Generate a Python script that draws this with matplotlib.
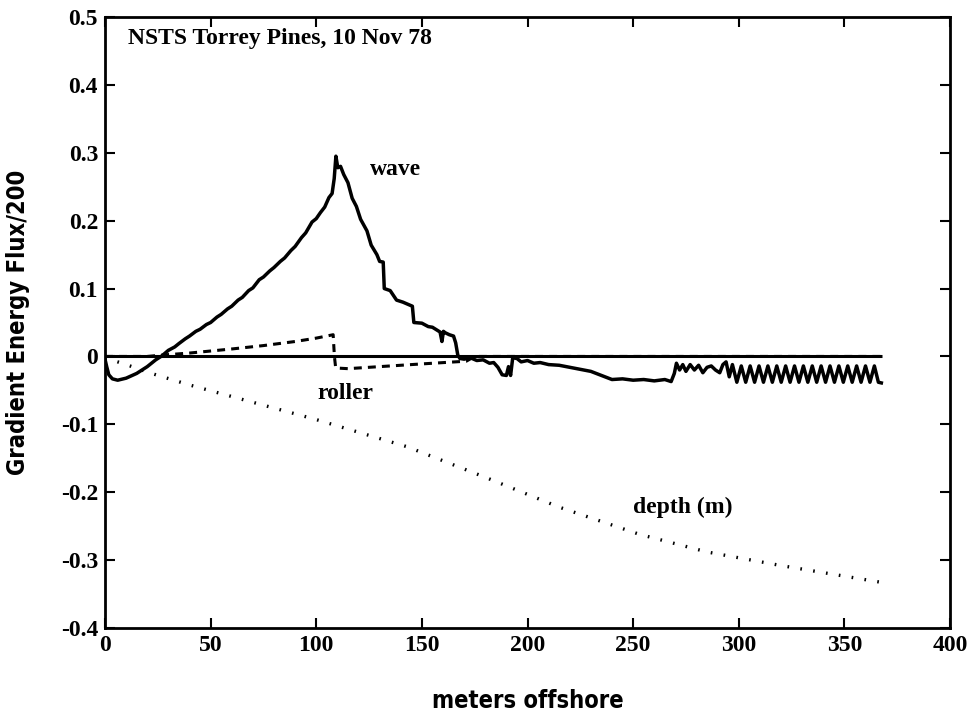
import matplotlib
matplotlib.use("Agg")
import matplotlib.pyplot as plt

# Cross-shore profile, NSTS Torrey Pines, 10 Nov 78
wave_x = [0, 0.8, 1.8, 3.5, 6, 10, 15, 20, 24, 27, 30, 33, 35, 38, 40, 43, 45, 48, 50,
          53, 55, 58, 60, 63, 65, 68, 70, 73, 75, 78, 80, 83, 85, 88, 90, 93, 95, 98, 100,
          102, 104, 106, 107.5, 108.5, 109.3, 110.2, 111.5, 113, 115, 117, 119, 121, 124,
          126, 128.7, 130, 131.7, 132.2, 135, 138, 141, 144, 145.5, 146.2, 150, 153, 155,
          158.6, 159.5, 160.2, 161, 163, 165, 166, 167, 168,
          170, 173, 176, 179, 182, 184, 186, 188, 190, 191, 192, 193, 195, 197, 200, 203,
          206, 210, 215, 220, 225, 230, 235, 240, 245, 250, 255, 260, 265, 268, 269.5,
          270.5, 272, 273.5, 275, 277, 279, 281, 283, 285, 287, 289, 291, 292.5, 294,
          295.5, 297.0, 299.1, 301.2, 303.3, 305.4, 307.5, 309.6, 311.7, 313.8, 315.9,
          318.0, 320.1, 322.2, 324.3, 326.4, 328.5, 330.6, 332.7, 334.8, 336.9, 339.0,
          341.1, 343.2, 345.3, 347.4, 349.5, 351.6, 353.7, 355.8, 357.9, 360.0, 362.1,
          364.2, 366.1, 367.5]
wave_y = [-0.004, -0.015, -0.027, -0.033, -0.035, -0.032, -0.025, -0.015, -0.005, 0.001,
          0.009, 0.014, 0.019, 0.026, 0.030, 0.037, 0.040, 0.047, 0.050,
          0.058, 0.062, 0.070, 0.074, 0.083, 0.087, 0.097, 0.101, 0.113, 0.117, 0.126,
          0.131, 0.140, 0.145, 0.156, 0.162, 0.175, 0.182, 0.198, 0.203,
          0.212, 0.220, 0.234, 0.240, 0.262, 0.295, 0.278, 0.280, 0.268, 0.256, 0.233,
          0.221, 0.202, 0.185, 0.164, 0.150, 0.140, 0.139, 0.100, 0.097, 0.083, 0.080,
          0.076, 0.074, 0.050, 0.049, 0.044, 0.043, 0.036, 0.022, 0.037, 0.035, 0.032,
          0.030, 0.020, 0.002, -0.003,
          -0.004, -0.002, -0.006, -0.005, -0.010, -0.009, -0.016, -0.027, -0.028, -0.015,
          -0.028, -0.002, -0.003, -0.008, -0.006, -0.010, -0.009, -0.012, -0.013, -0.016,
          -0.019, -0.022, -0.028, -0.034, -0.033, -0.035, -0.034, -0.036, -0.034, -0.037,
          -0.025, -0.010, -0.020, -0.012, -0.022, -0.012, -0.020, -0.013, -0.024, -0.016,
          -0.014, -0.020, -0.024, -0.012, -0.008, -0.030, -0.012, -0.038, -0.014, -0.038,
          -0.014, -0.038, -0.014, -0.038, -0.014, -0.038, -0.014, -0.038, -0.014, -0.038,
          -0.014, -0.038, -0.014, -0.038, -0.014, -0.038, -0.014, -0.038, -0.014, -0.038,
          -0.014, -0.038, -0.014, -0.038, -0.014, -0.038, -0.014, -0.038, -0.014, -0.038,
          -0.039]

roller_x = [0, 10, 20, 27, 40, 50, 60, 75, 90, 100, 108, 108.6, 109.2, 115, 130, 150, 171, 175, 368]
roller_y = [0.0, 0.0, 0.0, 0.002, 0.005, 0.008, 0.011, 0.016, 0.022, 0.027, 0.032, 0.0,
            -0.017, -0.018, -0.015, -0.011, -0.007, 0.0, 0.0]

depth_x = [0, 10, 22, 40, 67, 100, 143, 180, 215, 253, 285, 320, 368]
depth_y = [-0.002, -0.012, -0.025, -0.042, -0.065, -0.093, -0.133, -0.178, -0.222,
           -0.262, -0.288, -0.308, -0.333]

zero_x = [0, 368]
zero_y = [0, 0]

x_ticks = [0, 50, 100, 150, 200, 250, 300, 350, 400]
y_ticks = [-0.4, -0.3, -0.2, -0.1, 0, 0.1, 0.2, 0.3, 0.4, 0.5]
y_tick_labels = ["-0.4", "-0.3", "-0.2", "-0.1", "0", "0.1", "0.2", "0.3", "0.4", "0.5"]

serif = ["Liberation Serif", "DejaVu Serif"]
sans = ["DejaVu Sans"]
FS = 17

fig = plt.figure(figsize=(9.73, 7.15), dpi=100)
ax = fig.add_axes([105 / 973, 1 - 628 / 715, 845 / 973, 611 / 715])

ax.plot(zero_x, zero_y, color="black", lw=2.2, solid_capstyle="butt")
ax.plot(wave_x, wave_y, color="black", lw=2.5, solid_joinstyle="round")
ax.plot(roller_x, roller_y, color="black", lw=2.2, dashes=(2.6, 2.0))
ax.plot(depth_x, depth_y, color="black", lw=2.4, dashes=(0.5, 3.4))

ax.set_xlim(0, 400)
ax.set_ylim(-0.4, 0.5)
ax.set_xticks(x_ticks)
ax.set_yticks(y_ticks)
ax.set_yticklabels(y_tick_labels)
ax.tick_params(direction="in", length=7, width=1.5, top=True, right=True, pad=5)
for lbl in ax.get_xticklabels() + ax.get_yticklabels():
    lbl.set_family(serif)
    lbl.set_fontweight("bold")
    lbl.set_fontsize(FS)
for sp in ax.spines.values():
    sp.set_linewidth(2.0)

ax.text(10.9, 0.469, "NSTS Torrey Pines, 10 Nov 78", family=serif, fontweight="bold",
        fontsize=FS, va="center", ha="left")
ax.text(125.4, 0.275, "wave", family=serif, fontweight="bold", fontsize=FS, va="center")
ax.text(100.4, -0.054, "roller", family=serif, fontweight="bold", fontsize=FS, va="center")
ax.text(250, -0.223, "depth (m)", family=serif, fontweight="bold", fontsize=FS, va="center")

ax.set_xlabel("meters offshore", family=sans, fontweight="bold", fontstretch="condensed",
              fontsize=FS, labelpad=24)
ax.set_ylabel("Gradient Energy Flux/200", family=sans, fontweight="bold",
              fontstretch="condensed", fontsize=FS, labelpad=22)

fig.savefig("out.png", dpi=100)
